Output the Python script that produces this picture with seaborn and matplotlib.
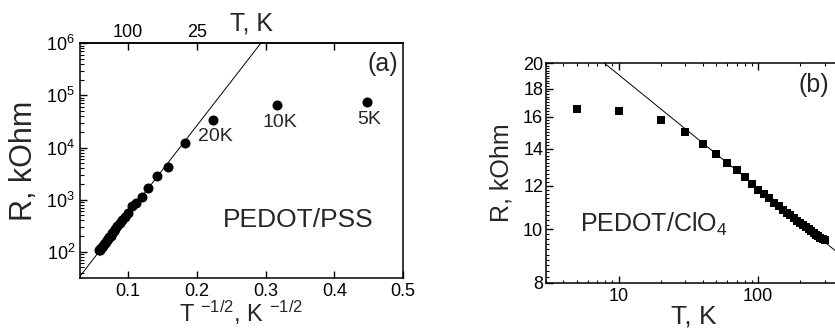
import numpy as np
import pandas as pd
import seaborn as sns
import matplotlib.pyplot as plt
from matplotlib.ticker import FixedLocator, NullFormatter, LogLocator

# panel (a): PEDOT/PSS, resistance vs T^-1/2
pss_T = [300, 290, 280, 270, 260, 250, 240, 230, 220, 210, 200, 190, 180, 170,
         160, 150, 140, 130, 120, 110, 100, 90, 80, 70, 60, 50, 40, 30, 20, 10, 5]
pss_R = [108, 110, 115, 120, 126, 132, 139, 146, 155, 165, 177, 190, 205, 225,
         248, 275, 310, 350, 405, 470, 560, 760, 870, 1120, 1660, 2900, 4300,
         12300, 34000, 65000, 74000]
pss_marked_T = [20, 10, 5]
pss_marked_text = ['20K', '10K', '5K']
pss_fit_x = [0.03, 0.293]
pss_fit_R = [34, 1e6]
top_T = [100, 25]

# panel (b): PEDOT/ClO4, resistance vs T
clo4_T = [5, 10, 20, 30, 40, 50, 60, 70, 80, 90, 100, 110, 120, 130, 140, 150,
          160, 170, 180, 190, 200, 210, 220, 230, 240, 250, 260, 270, 280, 290, 300]
clo4_R = [16.5, 16.4, 15.8, 15.0, 14.3, 13.7, 13.2, 12.8, 12.45, 12.1, 11.8,
          11.58, 11.38, 11.17, 11.0, 10.85, 10.72, 10.6, 10.48, 10.37, 10.27,
          10.18, 10.1, 10.01, 9.93, 9.85, 9.78, 9.71, 9.65, 9.6, 9.55]
clo4_fit_T = [7.9, 400]
clo4_fit_R = [20, 8.94]

sns.set_style('ticks')
plt.rcParams['font.family'] = ['Liberation Sans', 'DejaVu Sans']
plt.rcParams['mathtext.fontset'] = 'custom'
plt.rcParams['mathtext.rm'] = 'Liberation Sans'
plt.rcParams['mathtext.it'] = 'Liberation Sans:italic'
plt.rcParams['mathtext.bf'] = 'Liberation Sans:bold'
plt.rcParams['axes.edgecolor'] = 'black'
plt.rcParams['axes.linewidth'] = 1.1
plt.rcParams['xtick.color'] = 'black'
plt.rcParams['ytick.color'] = 'black'
plt.rcParams['xtick.direction'] = 'in'
plt.rcParams['ytick.direction'] = 'in'

df_a = pd.DataFrame({'T': pss_T, 'R': pss_R})
df_a['x'] = np.array(df_a['T'], dtype=float) ** -0.5
df_b = pd.DataFrame({'T': clo4_T, 'R': clo4_R})

fig = plt.figure(figsize=(8.35, 3.28), dpi=100)
ax1 = fig.add_axes([0.0958, 0.1515, 0.3868, 0.7165])
ax2 = fig.add_axes([0.6539, 0.138, 0.3545, 0.669])

# ---- panel (a)
sns.lineplot(x=pss_fit_x, y=pss_fit_R, ax=ax1, color='black', lw=0.7,
             sort=False, estimator=None)
sns.scatterplot(data=df_a, x='x', y='R', ax=ax1, color='black', s=52,
                edgecolor='black', linewidth=0, marker='o')
ax1.set_yscale('log')
ax1.set_xlim(0.03, 0.5)
ax1.set_ylim(31, 1e6)
ax1.set_xticks([0.1, 0.2, 0.3, 0.4, 0.5])
ax1.set_xticklabels(['0.1', '0.2', '0.3', '0.4', '0.5'])
ax1.yaxis.set_major_locator(LogLocator(base=10, numticks=10))
ax1.yaxis.set_minor_locator(LogLocator(base=10, subs=np.arange(2, 10), numticks=10))
ax1.yaxis.set_minor_formatter(NullFormatter())
ax1.tick_params(axis='both', which='major', labelsize=13, length=5, width=1)
ax1.tick_params(axis='y', which='minor', length=3, width=0.8)
ax1.set_xlabel(r'T $^{-1/2}$, K $^{-1/2}$', fontsize=17, labelpad=-1)
ax1.set_ylabel('R, kOhm', fontsize=22, labelpad=5)

for T, txt in zip(pss_marked_T, pss_marked_text):
    R = df_a.loc[df_a['T'] == T, 'R'].iloc[0]
    ax1.annotate(txt, (T ** -0.5, R), xytext=(2, -6), textcoords='offset points',
                 ha='center', va='top', fontsize=14)

ax1.text(0.442, 0.218, 'PEDOT/PSS', transform=ax1.transAxes, fontsize=19,
         ha='left', va='baseline')
ax1.text(0.985, 0.965, '(a)', transform=ax1.transAxes, fontsize=18,
         ha='right', va='top')

top = ax1.secondary_xaxis('top')
top.set_xticks([t ** -0.5 for t in top_T] + [0.3, 0.4])
top.set_xticklabels([str(t) for t in top_T] + ['', ''])
top.tick_params(direction='in', length=5, width=1, labelsize=13, pad=2)
ax1.text(0.465, 1.035, 'T, K', transform=ax1.transAxes, fontsize=18,
         ha='left', va='bottom')

# ---- panel (b)
sns.lineplot(x=clo4_fit_T, y=clo4_fit_R, ax=ax2, color='black', lw=0.7,
             sort=False, estimator=None)
sns.scatterplot(data=df_b, x='T', y='R', ax=ax2, color='black', s=36,
                edgecolor='black', linewidth=0, marker='s')
ax2.set_xscale('log')
ax2.set_yscale('log')
ax2.set_xlim(3, 400)
ax2.set_ylim(8, 20)
ax2.set_xticks([10, 100])
ax2.set_xticklabels(['10', '100'])
ax2.xaxis.set_minor_locator(LogLocator(base=10, subs=np.arange(2, 10), numticks=10))
ax2.xaxis.set_minor_formatter(NullFormatter())
ax2.set_yticks([8, 10, 12, 14, 16, 18, 20])
ax2.set_yticklabels(['8', '10', '12', '14', '16', '18', '20'])
ax2.yaxis.set_minor_locator(FixedLocator(np.arange(8, 20.01, 0.2)))
ax2.yaxis.set_minor_formatter(NullFormatter())
ax2.tick_params(axis='both', which='major', labelsize=13, length=5, width=1,
                top=True)
ax2.tick_params(axis='both', which='minor', length=2.5, width=0.8, top=True)
ax2.tick_params(axis='y', which='major', pad=2)
ax2.set_xlabel('T, K', fontsize=19, labelpad=0)
ax2.set_ylabel('R, kOhm', fontsize=18, labelpad=7)
ax2.text(0.115, 0.23, 'PEDOT/ClO$_4$', transform=ax2.transAxes, fontsize=18,
         ha='left', va='baseline')
ax2.text(0.956, 0.955, '(b)', transform=ax2.transAxes, fontsize=18,
         ha='right', va='top')

fig.savefig('out.png', dpi=100)
